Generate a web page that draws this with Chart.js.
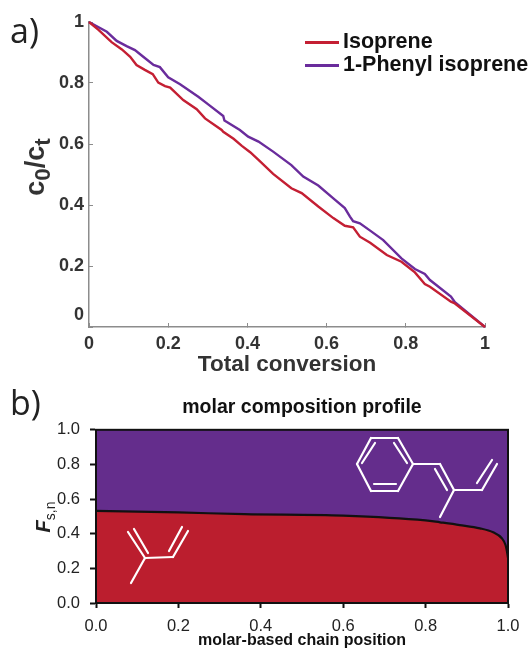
<!DOCTYPE html>
<html>
<head>
<meta charset="utf-8">
<title>Composition profile</title>
<script src="https://cdn.jsdelivr.net/npm/chart.js@4"></script>
<style>
  html, body { margin: 0; background: #fff; overflow: hidden; }
  #page { position: relative; width: 531px; height: 649px; font-family: "Liberation Sans", sans-serif; }
  canvas { position: absolute; left: 0; }
  .tag { position: absolute; left: 10px; font: 34px "Open Sans", sans-serif; color: #222; line-height: 40px; }
  .rot { position: absolute; transform: translate(-50%, -50%) rotate(-90deg); white-space: nowrap; }
  #ylabA { left: 35px; top: 167px; font-weight: bold; font-size: 27px; color: #333; }
  #ylabB { left: 43px; top: 517px; font-weight: bold; font-style: italic; font-size: 20px; color: #222; }
  #ylabB sub { font-weight: normal; font-style: normal; font-size: 14px; }
  sub { line-height: 0; }
  .leg { position: absolute; left: 305px; height: 23px; line-height: 23px; font-weight: bold; font-size: 21.5px; color: #111; white-space: nowrap; }
  .leg i { display: inline-block; width: 34px; height: 2.5px; vertical-align: middle; margin-right: 4px; }
</style>
</head>
<body>
<div id="page">
  <canvas id="chartA" style="top:0" width="531" height="378"></canvas>
  <canvas id="chartB" style="top:378px" width="531" height="271"></canvas>
  <div class="tag" style="top:10px">a)</div>
  <div class="tag" style="top:382px">b)</div>
  <div class="rot" id="ylabA">c<sub>0</sub>/c<sub>t</sub></div>
  <div class="rot" id="ylabB">F<sub>s,n</sub></div>
  <div id="legendA"></div>
</div>
<script>
// a) conversion plot
const conversionPurple = [0, .045, .07, .095, .116, .137, .163, .179, .2, .23, .276, .301, .339, .342, .381, .402, .428, .465, .511, .541, .579, .617, .646, .659, .667, .684, .71, .743, .789, .823, .848, .861, .914, .924, 1];
const phenylIsoprene = [1, .968, .938, .921, .908, .886, .859, .852, .819, .796, .755, .73, .692, .677, .646, .624, .608, .575, .531, .493, .464, .422, .39, .362, .347, .34, .316, .285, .225, .19, .174, .154, .1, .081, 0];
const conversionRed = [0, .024, .057, .083, .104, .12, .141, .161, .175, .192, .205, .238, .272, .293, .335, .339, .365, .386, .407, .428, .465, .511, .537, .579, .617, .646, .667, .684, .71, .752, .789, .823, .848, .861, .914, .924, 1];
const isoprene = [1, .974, .934, .91, .886, .859, .843, .829, .801, .79, .785, .744, .714, .684, .646, .64, .617, .594, .573, .548, .502, .455, .439, .395, .357, .332, .327, .296, .276, .236, .214, .179, .141, .132, .083, .077, 0];
const seriesNames = ['Isoprene', '1-Phenyl isoprene'];
const xTicksA = ['0', '0.2', '0.4', '0.6', '0.8', '1'];
const yTicksA = ['0', '0.2', '0.4', '0.6', '0.8', '1'];

// b) composition profile
const chainPosition = [0, .2, .36, .6, .8, .835, .883, .932, .964, .985, .994, .999, 1];
const fractionIsoprene = [.532, .523, .513, .505, .477, .466, .45, .431, .408, .374, .335, .277, .26];
const fractionTotal = [1, 1, 1, 1, 1, 1, 1, 1, 1, 1, 1, 1, 1];
const ticksB = ['0.0', '0.2', '0.4', '0.6', '0.8', '1.0'];

const RED = '#c41f33', PURPLE = '#6a2c9c';
const FILL_RED = '#bb1e2e', FILL_PURPLE = '#642d8c';

const pts = (xs, ys) => xs.map((x, i) => ({ x: x, y: ys[i] }));

// fixes the plot box at a set place on the canvas
const fixWidth = w => scale => { scale.width = w; };
const fixHeight = h => scale => { scale.height = h; };

new Chart(document.getElementById('chartA'), {
  type: 'line',
  data: {
    datasets: [
      { label: seriesNames[0], data: pts(conversionRed, isoprene), borderColor: RED, borderWidth: 2.4, pointRadius: 0, tension: 0, clip: false },
      { label: seriesNames[1], data: pts(conversionPurple, phenylIsoprene), borderColor: PURPLE, borderWidth: 2.4, pointRadius: 0, tension: 0, clip: false }
    ]
  },
  options: {
    responsive: false,
    animation: false,
    layout: { padding: { top: 22, right: 46 } },
    plugins: { legend: { display: false }, tooltip: { enabled: false } },
    scales: {
      x: {
        type: 'linear', min: 0, max: 1, afterFit: fixHeight(51),
        border: { color: '#8c8c8c', width: 1.5 },
        grid: { drawOnChartArea: false, tickLength: -4, tickColor: '#8c8c8c' },
        ticks: { stepSize: .2, maxRotation: 0, padding: 10, color: '#333', font: { size: 18, weight: 'bold', family: 'Liberation Sans' },
          callback: (v, i) => xTicksA[i] },
        title: { display: true, text: 'Total conversion', color: '#333', padding: 0, font: { size: 22.5, weight: 'bold', family: 'Liberation Sans' } }
      },
      y: {
        type: 'linear', min: 0, max: 1, afterFit: fixWidth(89),
        border: { color: '#8c8c8c', width: 1.5 },
        grid: { drawOnChartArea: false, tickLength: -4, tickColor: '#8c8c8c' },
        ticks: { stepSize: .2, padding: 9, color: '#333', font: { size: 18, weight: 'bold', family: 'Liberation Sans', lineHeight: 1.35 },
          // the 0 label sits above the axis in the original
          callback: (v, i) => i === 0 ? [yTicksA[i], ''] : yTicksA[i] }
      }
    }
  }
});

// white skeletal formulas on the fills, canvas pixels
const isopreneBonds = [
  [128, 154, 145, 180], [134, 151, 148, 175], [145, 180, 173, 179], [173, 179, 188, 153], [169, 173, 182, 149], [145, 180, 131, 205]
];
const phenylBonds = [
  [357, 86, 371, 60], [371, 60, 398, 60], [398, 60, 413, 86], [413, 86, 398, 113], [398, 113, 371, 113], [371, 113, 357, 86],
  [362, 85, 375, 65], [394, 65, 407, 85], [374, 106, 396, 106],
  [413, 86, 440, 86], [440, 86, 454, 112], [435, 91, 447, 112], [454, 112, 482, 112], [482, 112, 497, 86], [477, 105, 492, 82], [454, 112, 440, 139]
];
const extras = {
  id: 'extras',
  afterDatasetsDraw(chart) {
    const { ctx, chartArea: a } = chart;
    ctx.save();
    ctx.strokeStyle = '#fff';
    ctx.lineWidth = 2.2;
    ctx.lineCap = 'round';
    for (const b of isopreneBonds.concat(phenylBonds)) {
      ctx.beginPath(); ctx.moveTo(b[0], b[1]); ctx.lineTo(b[2], b[3]); ctx.stroke();
    }
    ctx.strokeStyle = '#111';
    ctx.lineWidth = 2;
    ctx.strokeRect(a.left, a.top, a.right - a.left, a.bottom - a.top);
    ctx.restore();
  }
};

new Chart(document.getElementById('chartB'), {
  type: 'line',
  data: {
    datasets: [
      { label: 'Isoprene', data: pts(chainPosition, fractionIsoprene), borderColor: '#111', borderWidth: 2.2, backgroundColor: FILL_RED, fill: 'origin', pointRadius: 0, cubicInterpolationMode: 'monotone' },
      { label: '1-Phenyl isoprene', data: pts(chainPosition, fractionTotal), borderWidth: 0, backgroundColor: FILL_PURPLE, fill: 'origin', pointRadius: 0, tension: 0 }
    ]
  },
  plugins: [extras],
  options: {
    responsive: false,
    animation: false,
    layout: { padding: { top: 0, right: 23 } },
    plugins: {
      legend: { display: false },
      tooltip: { enabled: false },
      title: { display: true, fullSize: false, text: 'molar composition profile', color: '#111', padding: { top: 18, bottom: 11 }, font: { size: 19.5, weight: 'bold', family: 'Liberation Sans', lineHeight: 1.17 } }
    },
    scales: {
      x: {
        type: 'linear', min: 0, max: 1, afterFit: fixHeight(46),
        border: { color: '#111', width: 2 },
        grid: { drawOnChartArea: false, tickLength: 5, tickColor: '#111', tickWidth: 2 },
        ticks: { stepSize: .2, maxRotation: 0, padding: 9, color: '#222', font: { size: 16.5, family: 'Liberation Sans' },
          callback: (v, i) => ticksB[i] },
        title: { display: true, text: 'molar-based chain position', color: '#111', padding: 0, font: { size: 16, weight: 'bold', family: 'Liberation Sans', lineHeight: 1 } }
      },
      y: {
        type: 'linear', min: 0, max: 1, afterFit: fixWidth(96),
        border: { color: '#111', width: 2 },
        grid: { drawOnChartArea: false, tickLength: 6, tickColor: '#111', tickWidth: 2 },
        ticks: { stepSize: .2, padding: 10, color: '#222', font: { size: 16.5, family: 'Liberation Sans' },
          callback: (v, i) => ticksB[i] }
      }
    }
  }
});

// legend for a) sticks out past the plot box, so it is plain html
const legendA = document.getElementById('legendA');
seriesNames.forEach((name, i) => {
  const row = document.createElement('div');
  row.className = 'leg';
  row.style.top = (30 + i * 23) + 'px';
  row.innerHTML = '<i style="background:' + (i ? PURPLE : RED) + '"></i>' + name;
  legendA.appendChild(row);
});
</script>
</body>
</html>
